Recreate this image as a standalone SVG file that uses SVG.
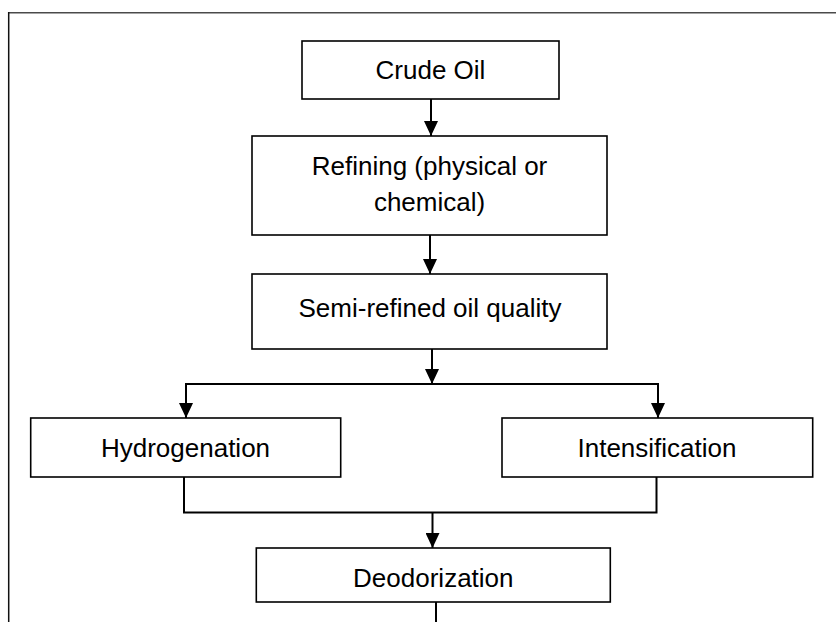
<svg xmlns="http://www.w3.org/2000/svg" width="836" height="622" viewBox="0 0 836 622">
<style>
.box{fill:#fff;stroke:#000;stroke-width:1.6}
.lbl{font-family:"Liberation Sans",Arial,sans-serif;font-size:26px;fill:#000;text-anchor:middle}
.con{fill:none;stroke:#000;stroke-width:2}
.arrow{marker-end:url(#arr)}
.frame{fill:none;stroke-width:1.5}
</style>
<defs>
<marker id="arr" markerUnits="userSpaceOnUse" markerWidth="15" markerHeight="14" refX="15" refY="7" orient="auto" viewBox="0 0 15 14">
<path d="M0,0 L15,7 L0,14 Z" fill="#000"/>
</marker>
</defs>
<rect width="836" height="622" fill="#fff"/>
<g id="frame">
<line class="frame" x1="8.7" y1="12.7" x2="836" y2="12.7" stroke="#4a4a4a"/>
<line class="frame" x1="8.7" y1="12" x2="8.7" y2="622" stroke="#111"/>
</g>
<g id="connectors">
<line class="con arrow" x1="431" y1="99" x2="431" y2="136"/>
<line class="con arrow" x1="430" y1="235" x2="430" y2="274"/>
<line class="con arrow" x1="432" y1="349" x2="432" y2="384"/>
<line class="con" x1="186" y1="384" x2="658" y2="384"/>
<line class="con arrow" x1="186" y1="383" x2="186" y2="418"/>
<line class="con arrow" x1="658" y1="383" x2="658" y2="418"/>
<polyline class="con" points="184,477 184,512.5 656.5,512.5 656.5,477"/>
<line class="con arrow" x1="432.5" y1="512.5" x2="432.5" y2="548"/>
<line class="con" x1="436" y1="602" x2="436" y2="622"/>
</g>
<g id="crude-oil">
<rect class="box" x="302" y="41" width="257" height="58"/>
<text class="lbl" x="430.5" y="79">Crude Oil</text>
</g>
<g id="refining">
<rect class="box" x="252" y="136" width="355" height="99"/>
<text class="lbl" x="429.5" y="175">Refining (physical or</text>
<text class="lbl" x="429.5" y="211">chemical)</text>
</g>
<g id="semi-refined">
<rect class="box" x="252" y="274" width="355" height="75"/>
<text class="lbl" x="430" y="317">Semi-refined oil quality</text>
</g>
<g id="hydrogenation">
<rect class="box" x="30.7" y="418" width="310" height="59"/>
<text class="lbl" x="185.5" y="457">Hydrogenation</text>
</g>
<g id="intensification">
<rect class="box" x="502" y="418" width="310.7" height="59"/>
<text class="lbl" x="657" y="457">Intensification</text>
</g>
<g id="deodorization">
<rect class="box" x="256.3" y="548" width="354" height="54"/>
<text class="lbl" x="433.3" y="587">Deodorization</text>
</g>
</svg>
